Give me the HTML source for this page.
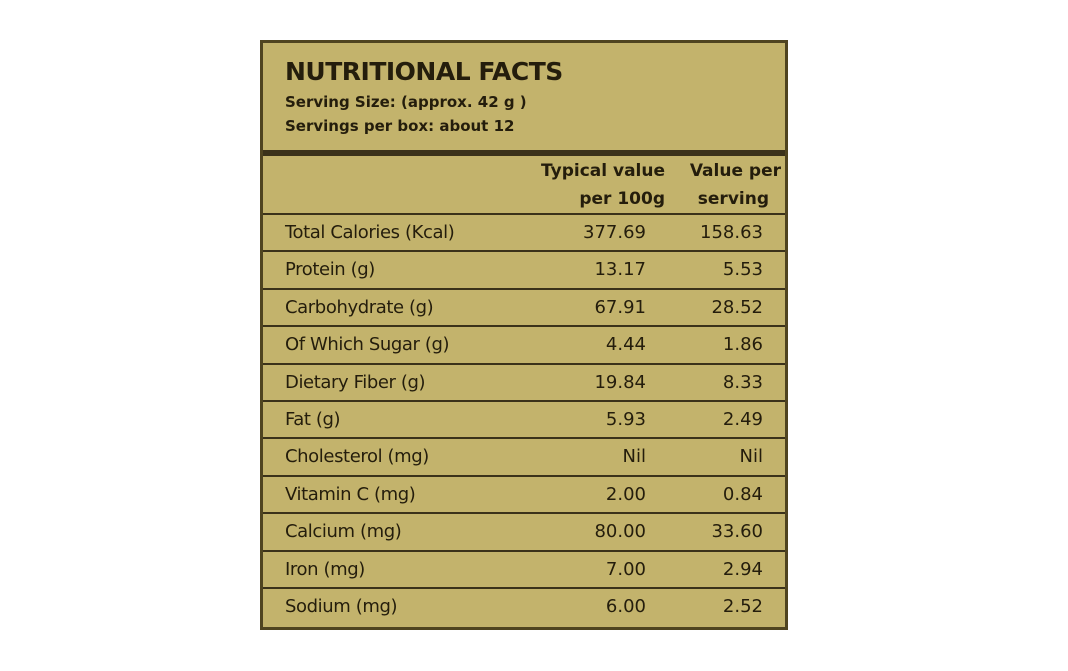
<!DOCTYPE html>
<html><head><meta charset="utf-8">
<style>
html,body{margin:0;padding:0;background:#fff;width:1068px;height:671px;overflow:hidden}
#panel{position:absolute;left:260px;top:40px;width:522px;height:584px;background:#c3b36c;border:3px solid #4f4420;font-family:"DejaVu Sans","Liberation Sans",sans-serif;color:#241d0c}
.t{position:absolute;white-space:nowrap}
.line{position:absolute;left:0;width:522px;background:#3b321a}
</style></head><body>
<div id="panel">
  <div class="t" style="left:22px;top:14px;font-size:25px;font-weight:bold;letter-spacing:-0.5px">NUTRITIONAL FACTS</div>
  <div class="t" style="left:22px;top:50px;font-size:15px;font-weight:bold">Serving Size: (approx. 42 g )</div>
  <div class="t" style="left:22px;top:74px;font-size:15px;font-weight:bold">Servings per box: about 12</div>
  <div class="line" style="top:107px;height:6px"></div>
  <div class="t" style="right:120px;top:114px;font-size:17px;font-weight:bold;text-align:right;line-height:28px">Typical value<br>per 100g</div>
  <div class="t" style="right:4px;top:114px;font-size:17px;font-weight:bold;text-align:right;line-height:28px">Value per<br><span style="margin-right:12px">serving</span></div>
  <div id="rows"></div>
</div>
<script>
const nutrients=["Total Calories (Kcal)","Protein (g)","Carbohydrate (g)","Of Which Sugar (g)","Dietary Fiber (g)","Fat (g)","Cholesterol (mg)","Vitamin C (mg)","Calcium (mg)","Iron (mg)","Sodium (mg)"];
const per100g=["377.69","13.17","67.91","4.44","19.84","5.93","Nil","2.00","80.00","7.00","6.00"];
const perServing=["158.63","5.53","28.52","1.86","8.33","2.49","Nil","0.84","33.60","2.94","2.52"];
const rows=document.getElementById('rows');
const top0=172, rh=37.4;
nutrients.forEach((n,i)=>{
  const y=top0+i*rh;
  const ln=document.createElement('div');
  ln.className='line';
  
  
  ln.style.top=(y-2)+'px';ln.style.height='2px';
  rows.appendChild(ln);
  const a=document.createElement('div');
  a.className='t';
  
  
  a.style.left='22px';a.style.top=(y+7)+'px';a.style.fontSize='18px';a.style.letterSpacing='-0.4px';
  a.textContent=n;rows.appendChild(a);
  const b=document.createElement('div');
  b.className='t';
  
  
  b.style.right='139px';b.style.top=(y+7)+'px';b.style.fontSize='18px';
  b.textContent=per100g[i];rows.appendChild(b);
  const c=document.createElement('div');
  c.className='t';
  
  
  c.style.right='22px';c.style.top=(y+7)+'px';c.style.fontSize='18px';
  c.textContent=perServing[i];rows.appendChild(c);
});
</script>
</body></html>
